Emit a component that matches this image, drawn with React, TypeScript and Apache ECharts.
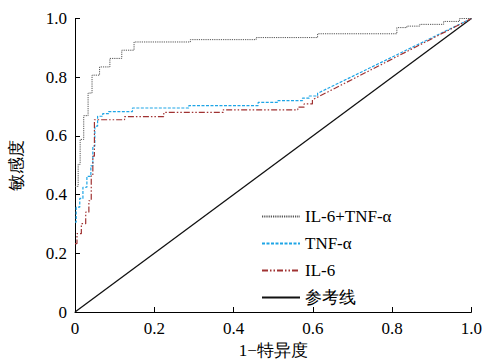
import React, { useEffect, useRef } from "react";
import * as echarts from "echarts";

const seriesNames = ["IL-6+TNF-α", "TNF-α", "IL-6", "参考线"];

const combinedFpr = [0, 0.008, 0.008, 0.013, 0.013, 0.022, 0.022, 0.033, 0.033, 0.043, 0.043, 0.062, 0.062, 0.088, 0.088, 0.118, 0.118, 0.149, 0.149, 0.291, 0.291, 0.457, 0.457, 0.612, 0.612, 0.812, 0.812, 0.837, 0.837, 0.87, 0.87, 0.93, 0.93, 0.97, 0.97, 1];
const combinedTpr = [0.428, 0.428, 0.503, 0.503, 0.588, 0.588, 0.669, 0.669, 0.746, 0.746, 0.807, 0.807, 0.835, 0.835, 0.864, 0.864, 0.892, 0.892, 0.92, 0.92, 0.928, 0.928, 0.935, 0.935, 0.948, 0.948, 0.969, 0.969, 0.974, 0.974, 0.98, 0.98, 0.99, 0.99, 1, 1];

const tnfFpr = [0, 0.003, 0.003, 0.012, 0.012, 0.02, 0.02, 0.03, 0.03, 0.04, 0.04, 0.045, 0.045, 0.05, 0.05, 0.057, 0.057, 0.07, 0.07, 0.085, 0.085, 0.145, 0.145, 0.287, 0.287, 0.462, 0.462, 0.512, 0.512, 0.574, 0.574, 0.591, 0.591, 0.612, 0.612, 1];
const tnfTpr = [0.306, 0.306, 0.357, 0.357, 0.387, 0.387, 0.425, 0.425, 0.462, 0.462, 0.498, 0.498, 0.565, 0.565, 0.633, 0.633, 0.667, 0.667, 0.676, 0.676, 0.683, 0.683, 0.695, 0.695, 0.703, 0.703, 0.714, 0.714, 0.72, 0.72, 0.729, 0.729, 0.736, 0.736, 0.745, 1];

const il6Fpr = [0, 0.005, 0.005, 0.016, 0.016, 0.027, 0.027, 0.035, 0.035, 0.041, 0.041, 0.045, 0.045, 0.049, 0.049, 0.125, 0.125, 0.224, 0.224, 0.374, 0.374, 0.562, 0.562, 0.578, 0.578, 0.599, 0.599, 1];
const il6Tpr = [0.233, 0.233, 0.267, 0.267, 0.301, 0.301, 0.34, 0.34, 0.379, 0.379, 0.464, 0.464, 0.531, 0.531, 0.655, 0.655, 0.666, 0.666, 0.68, 0.68, 0.689, 0.689, 0.698, 0.698, 0.709, 0.709, 0.723, 1];

const refFpr = [0, 1];
const refTpr = [0, 1];

const xTicks = [0, 0.2, 0.4, 0.6, 0.8, 1.0];
const yTicks = [0, 0.2, 0.4, 0.6, 0.8, 1.0];

const zip = (a: number[], b: number[]) => a.map((v, i) => [v, b[i]]);

const FONT = "Liberation Serif";

export default function App() {
  const ref = useRef<HTMLDivElement>(null);
  useEffect(() => {
    if (!ref.current) return;
    const chart = echarts.init(ref.current, undefined, { renderer: "svg" });
    const fmt = (v: number) => (v === 0 ? "0" : v.toFixed(1));
    const axisCommon = {
      type: "value" as const,
      interval: 0.2,
      axisLine: { show: true, lineStyle: { color: "#000", width: 1 } },
      axisTick: { show: true, inside: true, length: 5, lineStyle: { color: "#000" } },
      splitLine: { show: false },
      axisLabel: { color: "#000", fontFamily: FONT, fontSize: 17, margin: 8, formatter: fmt },
      nameTextStyle: { color: "#000", fontFamily: FONT, fontSize: 17 },
    };
    chart.setOption({
      animation: false,
      backgroundColor: "#fff",
      grid: { left: 75, right: 10, top: 18.5, bottom: 50 },
      xAxis: {
        ...axisCommon,
        min: xTicks[0],
        max: xTicks[xTicks.length - 1],
        name: "1−特异度",
        nameLocation: "middle",
        nameGap: 30,
      },
      yAxis: {
        ...axisCommon,
        min: yTicks[0],
        max: yTicks[yTicks.length - 1],
        name: "敏感度",
        nameLocation: "middle",
        nameGap: 50,
      },
      legend: {
        orient: "vertical",
        left: 256,
        top: 203,
        itemWidth: 38,
        itemHeight: 14,
        itemGap: 10,
        itemStyle: { opacity: 0 },
        textStyle: { color: "#000", fontFamily: FONT, fontSize: 17 },
        data: seriesNames,
      },
      series: [
        {
          name: seriesNames[0],
          type: "line",
          data: zip(combinedFpr, combinedTpr),
          symbol: "none",
          showSymbol: false,
          lineStyle: { color: "#555", width: 1, type: [1.2, 1] },
          itemStyle: { color: "#555" },
          z: 4,
        },
        {
          name: seriesNames[1],
          type: "line",
          data: zip(tnfFpr, tnfTpr),
          symbol: "none",
          showSymbol: false,
          lineStyle: { color: "#1ea5e6", width: 1.2, type: [3, 1.5] },
          itemStyle: { color: "#1ea5e6" },
          z: 3,
        },
        {
          name: seriesNames[2],
          type: "line",
          data: zip(il6Fpr, il6Tpr),
          symbol: "none",
          showSymbol: false,
          lineStyle: { color: "#a03232", width: 1.2, type: [6, 2, 1.5, 2, 1.5, 2] },
          itemStyle: { color: "#a03232" },
          z: 3,
        },
        {
          name: seriesNames[3],
          type: "line",
          data: zip(refFpr, refTpr),
          symbol: "none",
          showSymbol: false,
          lineStyle: { color: "#111", width: 1.3, type: "solid" },
          itemStyle: { color: "#111" },
          z: 2,
        },
      ],
    });
    return () => chart.dispose();
  }, []);
  return (
    <div
      ref={ref}
      style={{ position: "fixed", left: 0, top: 0, width: 485, height: 364 }}
    />
  );
}
